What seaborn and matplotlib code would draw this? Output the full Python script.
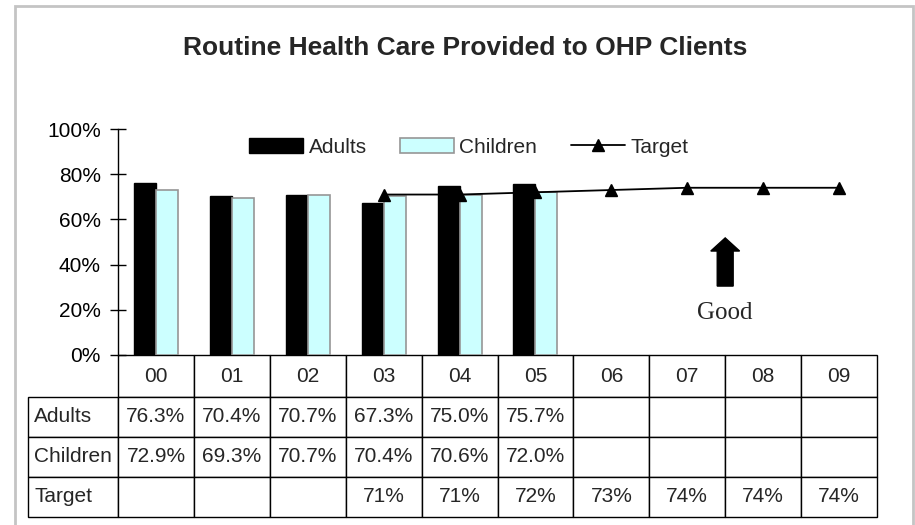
import numpy as np
import pandas as pd
import matplotlib
matplotlib.use('Agg')
import matplotlib.pyplot as plt
import seaborn as sns
from matplotlib.patches import Patch, Rectangle
from matplotlib.lines import Line2D

# datos
years = ['00', '01', '02', '03', '04', '05', '06', '07', '08', '09']
adults = [76.3, 70.4, 70.7, 67.3, 75.0, 75.7]
children = [72.9, 69.3, 70.7, 70.4, 70.6, 72.0]
target_years = ['03', '04', '05', '06', '07', '08', '09']
target = [71, 71, 72, 73, 74, 74, 74]

sns.set_style('white')
plt.rcParams['font.family'] = ['Liberation Sans', 'DejaVu Sans']

df = pd.DataFrame({'Year': years[:6] * 2,
                   'Value': adults + children,
                   'Group': ['Adults'] * 6 + ['Children'] * 6})

fig = plt.figure(figsize=(9.15, 5.25), dpi=100)
ax = fig.add_axes([118 / 915, 1 - 355 / 525, (877 - 118) / 915, 226 / 525])

sns.barplot(data=df, x='Year', y='Value', hue='Group', order=years,
            hue_order=['Adults', 'Children'],
            palette={'Adults': 'black', 'Children': '#CCFFFF'},
            width=0.58, gap=0, saturation=1, legend=False, ax=ax)
for bar in ax.containers[0]:
    bar.set_edgecolor('black')
for bar in ax.containers[1]:
    bar.set_edgecolor('#969696')
    bar.set_linewidth(1.2)

#%% linea objetivo
tx = [years.index(y) for y in target_years]
ax.plot(tx, target, color='black', marker='^', ms=9, lw=1.3, zorder=5)

ax.set_xlim(-0.5, 9.5)
ax.set_ylim(0, 100)
ax.set_yticks([0, 20, 40, 60, 80, 100])
ax.set_yticklabels([f'{v}%' for v in [0, 20, 40, 60, 80, 100]])
ax.set_xticks([])
ax.set_xlabel('')
ax.set_ylabel('')
for s in ['top', 'right', 'bottom']:
    ax.spines[s].set_visible(False)
ax.spines['left'].set_color('black')
ax.spines['left'].set_linewidth(1)
ax.tick_params(axis='y', left=True, direction='inout', length=11, width=1,
               labelsize=15, pad=7, colors='black')

# flecha "Good"
ax.arrow(7.5, 30.5, 0, 21.3, width=0.21, head_width=0.38, head_length=5.8,
         length_includes_head=True, fc='black', ec='black')
ax.text(7.5, 18.6, 'Good', ha='center', va='center',
        family=['Liberation Serif'], fontsize=18)

# leyenda
handles = [Patch(facecolor='black', edgecolor='black'),
           Patch(facecolor='#CCFFFF', edgecolor='#969696', linewidth=1.2),
           Line2D([], [], color='black', marker='^', ms=9, lw=1.3)]
ax.legend(handles, ['Adults', 'Children', 'Target'], ncol=3, frameon=False,
          loc='center', bbox_to_anchor=(0.462, 0.92), fontsize=15,
          handlelength=2.6, handletextpad=0.25, columnspacing=1.6)

#%% tabla de datos
adult_txt = [f'{v:.1f}%' for v in adults] + [''] * (len(years) - len(adults))
child_txt = [f'{v:.1f}%' for v in children] + [''] * (len(years) - len(children))
target_txt = [''] * (len(years) - len(target)) + [f'{v}%' for v in target]
rows = [[''] + years,
        ['Adults'] + adult_txt,
        ['Children'] + child_txt,
        ['Target'] + target_txt]

tbl = ax.table(cellText=rows, cellLoc='center',
               colWidths=[90] + [75.9] * len(years),
               bbox=[-90 / 759, -162 / 226, 849 / 759, 162 / 226])
tbl.auto_set_font_size(False)
tbl.set_fontsize(15)
for (r, c), cell in tbl.get_celld().items():
    cell.set_edgecolor('black')
    cell.set_linewidth(1)
    cell.set_height(42 if r == 0 else 40)
    if c == 0:
        cell._loc = 'left'
        cell.PAD = 0.07
        cell.get_text().set_horizontalalignment('left')
tbl[0, 0].visible_edges = ''
tbl[0, 0].set_facecolor('none')

fig.text(465 / 915, 1 - 48 / 525, 'Routine Health Care Provided to OHP Clients',
         ha='center', va='center', fontsize=19, fontweight='bold')

# marco gris (sin borde inferior visible)
fig.patches.append(Rectangle((15 / 915, -10 / 525), 898 / 915, 529 / 525,
                             transform=fig.transFigure, fill=False,
                             edgecolor='#C4C4C4', linewidth=2))

fig.savefig('out.png', dpi=100)
